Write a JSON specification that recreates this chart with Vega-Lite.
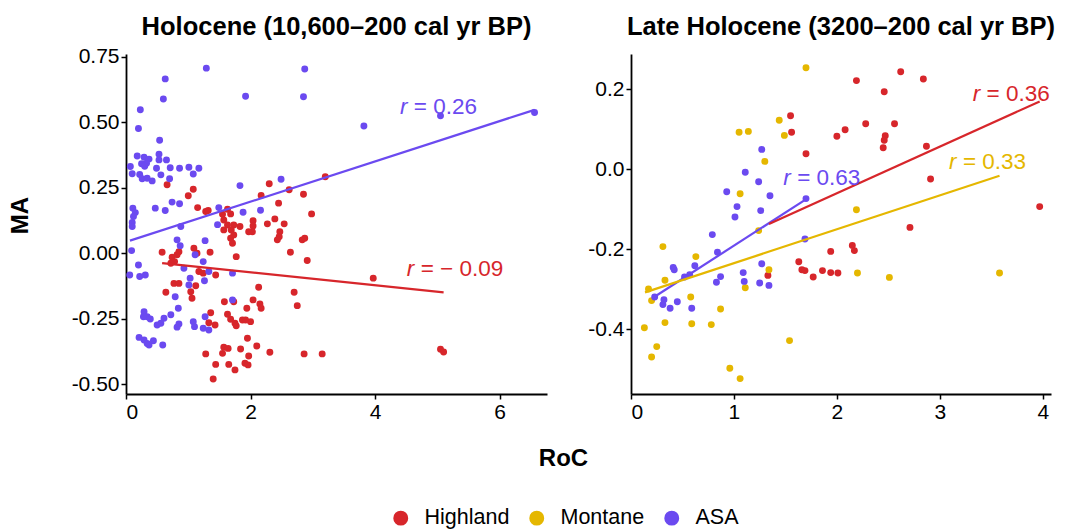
{
  "$schema": "https://vega.github.io/schema/vega-lite/v6.json",
  "padding": {"left": 8, "top": 14, "right": 5, "bottom": 2},
  "bounds": "flush",
  "spacing": 84,
  "datasets": {
    "hol_pts": [
      {"g":"Highland","roc":0.66,"ma":0.261},{"g":"Highland","roc":1.08,"ma":0.244},{"g":"Highland","roc":1.00,"ma":0.219},{"g":"Highland","roc":1.15,"ma":0.174},{"g":"Highland","roc":1.28,"ma":0.159},{"g":"Highland","roc":1.32,"ma":0.163},{"g":"Highland","roc":1.63,"ma":0.168},{"g":"Highland","roc":1.55,"ma":0.149},{"g":"Highland","roc":1.68,"ma":0.150},{"g":"Highland","roc":1.57,"ma":0.127},{"g":"Highland","roc":1.73,"ma":0.108},{"g":"Highland","roc":1.63,"ma":0.108},{"g":"Highland","roc":2.30,"ma":0.265},{"g":"Highland","roc":2.17,"ma":0.220},{"g":"Highland","roc":2.62,"ma":0.242},{"g":"Highland","roc":2.85,"ma":0.225},{"g":"Highland","roc":2.45,"ma":0.191},{"g":"Highland","roc":2.98,"ma":0.150},{"g":"Highland","roc":2.04,"ma":0.124},{"g":"Highland","roc":2.04,"ma":0.104},{"g":"Highland","roc":2.39,"ma":0.131},{"g":"Highland","roc":2.54,"ma":0.112},{"g":"Highland","roc":2.27,"ma":0.112},{"g":"Highland","roc":1.83,"ma":0.102},{"g":"Highland","roc":1.69,"ma":0.089},{"g":"Highland","roc":1.57,"ma":0.089},{"g":"Highland","roc":1.73,"ma":0.070},{"g":"Highland","roc":1.68,"ma":0.057},{"g":"Highland","roc":1.71,"ma":0.038},{"g":"Highland","roc":2.03,"ma":0.082},{"g":"Highland","roc":1.97,"ma":0.082},{"g":"Highland","roc":2.47,"ma":0.082},{"g":"Highland","roc":2.46,"ma":0.063},{"g":"Highland","roc":2.43,"ma":0.051},{"g":"Highland","roc":2.83,"ma":0.051},{"g":"Highland","roc":2.87,"ma":0.057},{"g":"Highland","roc":2.64,"ma":0.004},{"g":"Highland","roc":2.91,"ma":-0.028},{"g":"Highland","roc":1.77,"ma":-0.013},{"g":"Highland","roc":0.58,"ma":0.004},{"g":"Highland","roc":0.74,"ma":-0.015},{"g":"Highland","roc":0.82,"ma":-0.006},{"g":"Highland","roc":0.78,"ma":-0.032},{"g":"Highland","roc":0.72,"ma":-0.038},{"g":"Highland","roc":0.85,"ma":0.006},{"g":"Highland","roc":1.09,"ma":0.019},{"g":"Highland","roc":1.14,"ma":0.000},{"g":"Highland","roc":1.35,"ma":0.004},{"g":"Highland","roc":1.17,"ma":-0.070},{"g":"Highland","roc":1.24,"ma":-0.076},{"g":"Highland","roc":1.44,"ma":-0.083},{"g":"Highland","roc":0.77,"ma":-0.115},{"g":"Highland","roc":0.85,"ma":-0.115},{"g":"Highland","roc":0.64,"ma":-0.149},{"g":"Highland","roc":1.04,"ma":-0.147},{"g":"Highland","roc":1.06,"ma":-0.172},{"g":"Highland","roc":1.12,"ma":-0.124},{"g":"Highland","roc":2.13,"ma":-0.130},{"g":"Highland","roc":2.04,"ma":-0.178},{"g":"Highland","roc":2.15,"ma":-0.194},{"g":"Highland","roc":2.17,"ma":-0.210},{"g":"Highland","roc":1.94,"ma":-0.210},{"g":"Highland","roc":1.58,"ma":-0.185},{"g":"Highland","roc":1.73,"ma":-0.185},{"g":"Highland","roc":2.70,"ma":-0.149},{"g":"Highland","roc":2.75,"ma":-0.200},{"g":"Highland","roc":1.36,"ma":-0.227},{"g":"Highland","roc":1.33,"ma":-0.265},{"g":"Highland","roc":1.43,"ma":-0.274},{"g":"Highland","roc":1.63,"ma":-0.233},{"g":"Highland","roc":1.68,"ma":-0.252},{"g":"Highland","roc":1.75,"ma":-0.267},{"g":"Highland","roc":1.87,"ma":-0.255},{"g":"Highland","roc":2.00,"ma":-0.261},{"g":"Highland","roc":1.92,"ma":-0.255},{"g":"Highland","roc":1.77,"ma":-0.277},{"g":"Highland","roc":1.95,"ma":-0.324},{"g":"Highland","roc":1.57,"ma":-0.359},{"g":"Highland","roc":1.64,"ma":-0.363},{"g":"Highland","roc":1.55,"ma":-0.382},{"g":"Highland","roc":1.84,"ma":-0.365},{"g":"Highland","roc":2.10,"ma":-0.354},{"g":"Highland","roc":2.31,"ma":-0.378},{"g":"Highland","roc":2.86,"ma":-0.384},{"g":"Highland","roc":1.28,"ma":-0.384},{"g":"Highland","roc":1.44,"ma":-0.424},{"g":"Highland","roc":1.65,"ma":-0.424},{"g":"Highland","roc":1.75,"ma":-0.445},{"g":"Highland","roc":1.91,"ma":-0.420},{"g":"Highland","roc":1.96,"ma":-0.426},{"g":"Highland","roc":1.97,"ma":-0.392},{"g":"Highland","roc":1.40,"ma":-0.480},{"g":"Highland","roc":3.20,"ma":0.292},{"g":"Highland","roc":3.97,"ma":-0.095},{"g":"Highland","roc":3.15,"ma":-0.384},{"g":"Highland","roc":5.05,"ma":-0.366},{"g":"Highland","roc":5.10,"ma":-0.377},
      {"g":"ASA","roc":1.29,"ma":0.706},{"g":"ASA","roc":2.87,"ma":0.703},{"g":"ASA","roc":0.63,"ma":0.665},{"g":"ASA","roc":0.60,"ma":0.588},{"g":"ASA","roc":1.92,"ma":0.599},{"g":"ASA","roc":2.85,"ma":0.597},{"g":"ASA","roc":0.23,"ma":0.547},{"g":"ASA","roc":0.20,"ma":0.476},{"g":"ASA","roc":0.54,"ma":0.431},{"g":"ASA","roc":0.18,"ma":0.371},{"g":"ASA","roc":0.29,"ma":0.366},{"g":"ASA","roc":0.37,"ma":0.359},{"g":"ASA","roc":0.33,"ma":0.343},{"g":"ASA","roc":0.25,"ma":0.341},{"g":"ASA","roc":0.30,"ma":0.332},{"g":"ASA","roc":0.53,"ma":0.378},{"g":"ASA","roc":0.53,"ma":0.356},{"g":"ASA","roc":0.65,"ma":0.356},{"g":"ASA","roc":0.71,"ma":0.326},{"g":"ASA","roc":0.49,"ma":0.324},{"g":"ASA","roc":0.07,"ma":0.331},{"g":"ASA","roc":0.10,"ma":0.303},{"g":"ASA","roc":0.22,"ma":0.300},{"g":"ASA","roc":0.26,"ma":0.284},{"g":"ASA","roc":0.34,"ma":0.286},{"g":"ASA","roc":0.42,"ma":0.276},{"g":"ASA","roc":0.56,"ma":0.299},{"g":"ASA","roc":0.70,"ma":0.284},{"g":"ASA","roc":0.86,"ma":0.324},{"g":"ASA","roc":1.01,"ma":0.328},{"g":"ASA","roc":1.17,"ma":0.324},{"g":"ASA","roc":1.08,"ma":0.302},{"g":"ASA","roc":1.83,"ma":0.258},{"g":"ASA","roc":2.49,"ma":0.282},{"g":"ASA","roc":0.11,"ma":0.172},{"g":"ASA","roc":0.15,"ma":0.155},{"g":"ASA","roc":0.12,"ma":0.140},{"g":"ASA","roc":0.10,"ma":0.117},{"g":"ASA","roc":0.10,"ma":0.102},{"g":"ASA","roc":0.47,"ma":0.172},{"g":"ASA","roc":0.63,"ma":0.163},{"g":"ASA","roc":0.74,"ma":0.195},{"g":"ASA","roc":0.86,"ma":0.189},{"g":"ASA","roc":1.49,"ma":0.174},{"g":"ASA","roc":1.88,"ma":0.156},{"g":"ASA","roc":2.16,"ma":0.164},{"g":"ASA","roc":1.47,"ma":0.109},{"g":"ASA","roc":0.88,"ma":0.102},{"g":"ASA","roc":0.82,"ma":0.051},{"g":"ASA","roc":0.87,"ma":0.029},{"g":"ASA","roc":1.27,"ma":0.048},{"g":"ASA","roc":0.09,"ma":0.010},{"g":"ASA","roc":0.20,"ma":-0.045},{"g":"ASA","roc":0.06,"ma":-0.083},{"g":"ASA","roc":0.22,"ma":-0.089},{"g":"ASA","roc":0.31,"ma":-0.083},{"g":"ASA","roc":1.11,"ma":-0.006},{"g":"ASA","roc":1.24,"ma":-0.032},{"g":"ASA","roc":0.93,"ma":-0.057},{"g":"ASA","roc":1.26,"ma":-0.105},{"g":"ASA","roc":1.33,"ma":-0.070},{"g":"ASA","roc":1.71,"ma":-0.076},{"g":"ASA","roc":1.03,"ma":-0.095},{"g":"ASA","roc":1.01,"ma":-0.121},{"g":"ASA","roc":0.79,"ma":-0.166},{"g":"ASA","roc":1.71,"ma":-0.178},{"g":"ASA","roc":0.84,"ma":-0.210},{"g":"ASA","roc":0.72,"ma":-0.235},{"g":"ASA","roc":0.61,"ma":-0.248},{"g":"ASA","roc":0.56,"ma":-0.267},{"g":"ASA","roc":0.50,"ma":-0.274},{"g":"ASA","roc":0.29,"ma":-0.223},{"g":"ASA","roc":0.34,"ma":-0.242},{"g":"ASA","roc":0.39,"ma":-0.251},{"g":"ASA","roc":0.28,"ma":-0.242},{"g":"ASA","roc":0.85,"ma":-0.270},{"g":"ASA","roc":0.82,"ma":-0.282},{"g":"ASA","roc":1.08,"ma":-0.261},{"g":"ASA","roc":1.10,"ma":-0.280},{"g":"ASA","roc":1.27,"ma":-0.242},{"g":"ASA","roc":1.24,"ma":-0.286},{"g":"ASA","roc":1.33,"ma":-0.293},{"g":"ASA","roc":0.21,"ma":-0.321},{"g":"ASA","roc":0.29,"ma":-0.331},{"g":"ASA","roc":0.34,"ma":-0.344},{"g":"ASA","roc":0.44,"ma":-0.334},{"g":"ASA","roc":0.37,"ma":-0.350},{"g":"ASA","roc":0.59,"ma":-0.350},{"g":"ASA","roc":3.82,"ma":0.485},{"g":"ASA","roc":5.05,"ma":0.524},{"g":"ASA","roc":6.56,"ma":0.537}
    ],
    "late_pts": [
      {"g":"Highland","roc":1.55,"ma":0.133},{"g":"Highland","roc":1.56,"ma":0.092},{"g":"Highland","roc":1.70,"ma":0.038},{"g":"Highland","roc":1.33,"ma":-0.266},{"g":"Highland","roc":1.63,"ma":-0.232},{"g":"Highland","roc":1.66,"ma":-0.252},{"g":"Highland","roc":1.69,"ma":-0.254},{"g":"Highland","roc":2.62,"ma":0.243},{"g":"Highland","roc":2.19,"ma":0.221},{"g":"Highland","roc":2.84,"ma":0.225},{"g":"Highland","roc":2.46,"ma":0.193},{"g":"Highland","roc":2.08,"ma":0.098},{"g":"Highland","roc":2.00,"ma":0.082},{"g":"Highland","roc":2.28,"ma":0.113},{"g":"Highland","roc":2.56,"ma":0.113},{"g":"Highland","roc":2.47,"ma":0.083},{"g":"Highland","roc":2.46,"ma":0.072},{"g":"Highland","roc":2.45,"ma":0.053},{"g":"Highland","roc":2.87,"ma":0.057},{"g":"Highland","roc":2.91,"ma":-0.025},{"g":"Highland","roc":3.97,"ma":-0.094},{"g":"Highland","roc":2.71,"ma":-0.146},{"g":"Highland","roc":1.94,"ma":-0.206},{"g":"Highland","roc":2.15,"ma":-0.191},{"g":"Highland","roc":2.17,"ma":-0.204},{"g":"Highland","roc":1.77,"ma":-0.270},{"g":"Highland","roc":1.86,"ma":-0.254},{"g":"Highland","roc":1.94,"ma":-0.259},{"g":"Highland","roc":2.01,"ma":-0.260},
      {"g":"Montane","roc":1.70,"ma":0.253},{"g":"Montane","roc":1.44,"ma":0.122},{"g":"Montane","roc":1.49,"ma":0.084},{"g":"Montane","roc":1.05,"ma":0.092},{"g":"Montane","roc":1.14,"ma":0.094},{"g":"Montane","roc":1.30,"ma":0.019},{"g":"Montane","roc":1.06,"ma":-0.062},{"g":"Montane","roc":0.31,"ma":-0.194},{"g":"Montane","roc":0.63,"ma":-0.219},{"g":"Montane","roc":0.33,"ma":-0.278},{"g":"Montane","roc":0.17,"ma":-0.300},{"g":"Montane","roc":0.20,"ma":-0.329},{"g":"Montane","roc":0.58,"ma":-0.320},{"g":"Montane","roc":0.87,"ma":-0.350},{"g":"Montane","roc":1.11,"ma":-0.297},{"g":"Montane","roc":1.34,"ma":-0.252},{"g":"Montane","roc":1.24,"ma":-0.154},{"g":"Montane","roc":0.13,"ma":-0.397},{"g":"Montane","roc":0.33,"ma":-0.384},{"g":"Montane","roc":0.59,"ma":-0.387},{"g":"Montane","roc":0.78,"ma":-0.389},{"g":"Montane","roc":0.25,"ma":-0.444},{"g":"Montane","roc":0.20,"ma":-0.470},{"g":"Montane","roc":1.54,"ma":-0.429},{"g":"Montane","roc":0.96,"ma":-0.498},{"g":"Montane","roc":1.06,"ma":-0.524},{"g":"Montane","roc":2.19,"ma":-0.102},{"g":"Montane","roc":2.20,"ma":-0.260},{"g":"Montane","roc":2.51,"ma":-0.271},{"g":"Montane","roc":3.58,"ma":-0.260},
      {"g":"ASA","roc":1.27,"ma":0.049},{"g":"ASA","roc":1.11,"ma":-0.008},{"g":"ASA","roc":1.24,"ma":-0.032},{"g":"ASA","roc":0.93,"ma":-0.057},{"g":"ASA","roc":1.35,"ma":-0.067},{"g":"ASA","roc":1.03,"ma":-0.094},{"g":"ASA","roc":1.01,"ma":-0.120},{"g":"ASA","roc":1.26,"ma":-0.104},{"g":"ASA","roc":1.70,"ma":-0.074},{"g":"ASA","roc":0.79,"ma":-0.164},{"g":"ASA","roc":0.84,"ma":-0.208},{"g":"ASA","roc":0.41,"ma":-0.246},{"g":"ASA","roc":0.42,"ma":-0.252},{"g":"ASA","roc":0.62,"ma":-0.242},{"g":"ASA","roc":0.52,"ma":-0.270},{"g":"ASA","roc":0.57,"ma":-0.264},{"g":"ASA","roc":0.83,"ma":-0.283},{"g":"ASA","roc":0.87,"ma":-0.269},{"g":"ASA","roc":1.09,"ma":-0.259},{"g":"ASA","roc":1.10,"ma":-0.281},{"g":"ASA","roc":1.25,"ma":-0.285},{"g":"ASA","roc":1.27,"ma":-0.237},{"g":"ASA","roc":1.34,"ma":-0.291},{"g":"ASA","roc":1.69,"ma":-0.175},{"g":"ASA","roc":0.23,"ma":-0.320},{"g":"ASA","roc":0.32,"ma":-0.327},{"g":"ASA","roc":0.31,"ma":-0.339},{"g":"ASA","roc":0.38,"ma":-0.348},{"g":"ASA","roc":0.45,"ma":-0.332},{"g":"ASA","roc":0.59,"ma":-0.348}
    ],
    "hol_fit": [
      {"g":"ASA","roc":0.064,"ma":0.048},{"g":"ASA","roc":6.56,"ma":0.547},
      {"g":"Highland","roc":0.58,"ma":-0.038},{"g":"Highland","roc":5.10,"ma":-0.149}
    ],
    "late_fit": [
      {"g":"ASA","roc":0.21,"ma":-0.3225},{"g":"ASA","roc":1.71,"ma":-0.074},
      {"g":"Highland","roc":1.34,"ma":-0.1375},{"g":"Highland","roc":3.97,"ma":0.169},
      {"g":"Montane","roc":0.136,"ma":-0.3085},{"g":"Montane","roc":3.58,"ma":-0.017}
    ],
    "hol_lab": [
      {"g":"ASA","roc":4.40,"ma":0.558,"txt":"= 0.26"},
      {"g":"Highland","roc":4.51,"ma":-0.060,"txt":"= − 0.09"}
    ],
    "late_lab": [
      {"g":"ASA","roc":1.48,"ma":-0.0225,"txt":"= 0.63"},
      {"g":"Highland","roc":3.32,"ma":0.1875,"txt":"= 0.36"},
      {"g":"Montane","roc":3.09,"ma":0.0165,"txt":"= 0.33"}
    ]
  },
  "hconcat": [
    {
      "width": 421,
      "height": 340,
      "title": {"text": "Holocene (10,600–200 cal yr BP)", "offset": 5.5},
      "encoding": {
        "x": {"field": "roc", "type": "quantitative", "scale": {"domain": [0, 6.76], "nice": false, "zero": false},
              "axis": {"values": [0, 2, 4, 6], "title": "RoC", "titleX": 437, "titlePadding": 24}},
        "y": {"field": "ma", "type": "quantitative", "scale": {"domain": [-0.537, 0.76], "nice": false, "zero": false},
              "axis": {"values": [-0.5, -0.25, 0, 0.25, 0.5, 0.75], "title": "MA", "titlePadding": 39, "titleY": 161,
                       "labelExpr": "datum.value < 0 ? '-' + format(-datum.value, '.2f') : format(datum.value, '.2f')"}}
      },
      "layer": [
        {"data": {"name": "hol_pts"}, "mark": {"type": "point", "filled": true, "size": 48, "opacity": 1},
         "encoding": {"color": {"field": "g", "type": "nominal",
            "scale": {"domain": ["Highland", "Montane", "ASA"], "range": ["#D7262B", "#E5B700", "#6B4AF0"]},
            "legend": {"title": null, "orient": "none", "legendX": 264, "legendY": 453, "direction": "horizontal", "symbolType": "circle", "symbolSize": 180, "labelFontSize": 21.5, "labelOffset": 13, "columnPadding": 16}}}},
        {"data": {"name": "hol_fit"}, "mark": {"type": "line", "strokeWidth": 2.2},
         "encoding": {"color": {"field": "g", "type": "nominal", "legend": null}}},
        {"data": {"name": "hol_lab"}, "mark": {"type": "text", "align": "left", "baseline": "middle", "fontStyle": "italic", "fontSize": 22.5},
         "encoding": {"text": {"value": "r"}, "color": {"field": "g", "type": "nominal", "legend": null}}},
        {"data": {"name": "hol_lab"}, "mark": {"type": "text", "align": "left", "baseline": "middle", "fontSize": 22.5, "dx": 13.8},
         "encoding": {"text": {"field": "txt"}, "color": {"field": "g", "type": "nominal", "legend": null}}}
      ]
    },
    {
      "width": 420,
      "height": 340,
      "title": {"text": "Late Holocene (3200–200 cal yr BP)", "offset": 14},
      "encoding": {
        "x": {"field": "roc", "type": "quantitative", "scale": {"domain": [0, 4.08], "nice": false, "zero": false},
              "axis": {"values": [0, 1, 2, 3, 4], "title": null}},
        "y": {"field": "ma", "type": "quantitative", "scale": {"domain": [-0.5625, 0.2875], "nice": false, "zero": false},
              "axis": {"values": [-0.4, -0.2, 0, 0.2], "title": null,
                       "labelExpr": "datum.value < 0 ? '-' + format(-datum.value, '.1f') : format(datum.value, '.1f')"}}
      },
      "layer": [
        {"data": {"name": "late_pts"}, "mark": {"type": "point", "filled": true, "size": 48, "opacity": 1},
         "encoding": {"color": {"field": "g", "type": "nominal",
            "scale": {"domain": ["Highland", "Montane", "ASA"], "range": ["#D7262B", "#E5B700", "#6B4AF0"]},
            "legend": {"title": null, "orient": "none", "legendX": 264, "legendY": 453, "direction": "horizontal", "symbolType": "circle", "symbolSize": 180, "labelFontSize": 21.5, "labelOffset": 13, "columnPadding": 16}}}},
        {"data": {"name": "late_fit"}, "mark": {"type": "line", "strokeWidth": 2.2},
         "encoding": {"color": {"field": "g", "type": "nominal", "legend": null}}},
        {"data": {"name": "late_lab"}, "mark": {"type": "text", "align": "left", "baseline": "middle", "fontStyle": "italic", "fontSize": 22.5},
         "encoding": {"text": {"value": "r"}, "color": {"field": "g", "type": "nominal", "legend": null}}},
        {"data": {"name": "late_lab"}, "mark": {"type": "text", "align": "left", "baseline": "middle", "fontSize": 22.5, "dx": 13.8},
         "encoding": {"text": {"field": "txt"}, "color": {"field": "g", "type": "nominal", "legend": null}}}
      ]
    }
  ],
  "config": {
    "font": "Liberation Sans",
    "view": {"stroke": null},
    "axis": {"grid": false, "domainColor": "black", "domainWidth": 1.8, "tickColor": "black", "tickWidth": 1.5, "tickSize": 5,
             "labelColor": "black", "labelFontSize": 21, "labelPadding": 2, "titleColor": "black", "titleFontSize": 24, "titleFontWeight": "bold"},
    "title": {"fontSize": 25.5, "fontWeight": "bold", "color": "black", "anchor": "middle"},
    "legend": {"labelColor": "black"}
  }
}
